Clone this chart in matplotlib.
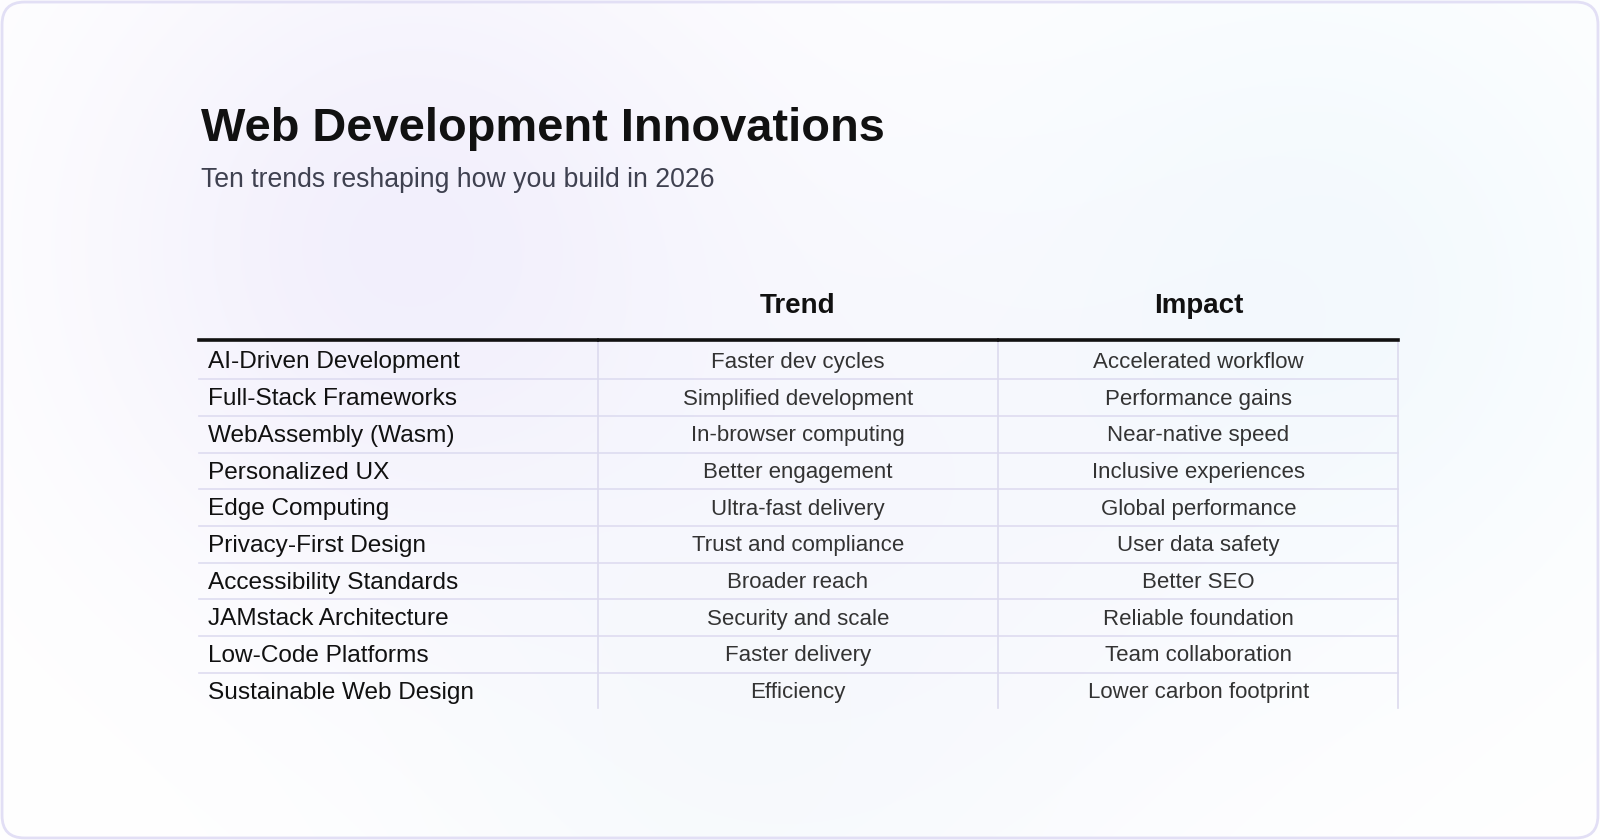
import matplotlib
matplotlib.use("Agg")
import matplotlib.pyplot as plt
import numpy as np
from matplotlib.patches import FancyBboxPatch
from matplotlib.lines import Line2D

title = "Web Development Innovations"
subtitle = "Ten trends reshaping how you build in 2026"
headers = ["", "Trend", "Impact"]
innovations = ["AI-Driven Development", "Full-Stack Frameworks", "WebAssembly (Wasm)",
               "Personalized UX", "Edge Computing", "Privacy-First Design",
               "Accessibility Standards", "JAMstack Architecture", "Low-Code Platforms",
               "Sustainable Web Design"]
trends = ["Faster dev cycles", "Simplified development", "In-browser computing",
          "Better engagement", "Ultra-fast delivery", "Trust and compliance",
          "Broader reach", "Security and scale", "Faster delivery", "Efficiency"]
impacts = ["Accelerated workflow", "Performance gains", "Near-native speed",
           "Inclusive experiences", "Global performance", "User data safety",
           "Better SEO", "Reliable foundation", "Team collaboration",
           "Lower carbon footprint"]

fig = plt.figure(figsize=(16, 8.4), dpi=100)
ax = fig.add_axes([0, 0, 1, 1])
ax.set_xlim(0, 1568)
ax.set_ylim(824, 0)
ax.axis("off")

# background gradient
yy, xx = np.mgrid[0:824:2, 0:1568:2]
img = np.ones((yy.shape[0], yy.shape[1], 3))
def blob(cx, cy, r, col, a):
    d = np.exp(-(((xx - cx) ** 2 + (yy - cy) ** 2) / (2 * r ** 2)))
    for i in range(3):
        img[..., i] = img[..., i] * (1 - a * d) + col[i] * a * d
blob(400, 240, 230, (0.91, 0.89, 0.98), 0.55)
blob(1300, 280, 230, (0.91, 0.96, 0.99), 0.5)
blob(850, 520, 280, (0.93, 0.93, 0.99), 0.35)
blob(700, 760, 220, (0.94, 0.97, 0.98), 0.35)
ax.imshow(img, extent=(0, 1568, 824, 0), zorder=0, aspect="auto")
ax.add_patch(FancyBboxPatch((2, 2), 1564, 820, boxstyle="round,pad=0,rounding_size=22",
                            fc="none", ec="#e2dff5", lw=2, zorder=1))

fam = ["Liberation Sans", "DejaVu Sans"]
ax.text(197, 127, title, fontsize=33.8, fontweight="bold", color="#111111",
        family=fam, va="center", ha="left")
ax.text(197, 177, subtitle, fontsize=19.2, color="#3f4150", family=fam,
        va="center", ha="left")

cols = [(195, 585), (587, 977), (979, 1370)]
for (x0, x1), h in zip(cols, headers):
    if h:
        ax.text((x0 + x1) / 2, 300, h, fontsize=20, fontweight="bold",
                color="#111111", family=fam, ha="center", va="center")
    ax.add_line(Line2D([x0, x1], [334, 334], color="#111111", lw=2.6, zorder=3))

top, rh = 336, 36
n = len(innovations)
for i in range(n):
    cy = top + rh * i + rh / 2 + 1.5
    ax.text(204, cy, innovations[i], fontsize=17.6, color="#111111", family=fam,
            ha="left", va="center")
    ax.text(sum(cols[1]) / 2, cy, trends[i], fontsize=16, color="#333333",
            family=fam, ha="center", va="center")
    ax.text(sum(cols[2]) / 2, cy, impacts[i], fontsize=16, color="#333333",
            family=fam, ha="center", va="center")
    if i < n - 1:
        yl = top + rh * (i + 1)
        ax.add_line(Line2D([195, 1370], [yl, yl], color="#dedcf0", lw=1.2, zorder=2))
for x in (586, 978, 1370):
    ax.add_line(Line2D([x, x], [335, top + rh * n - 1], color="#dcdaee", lw=1.2, zorder=2))

fig.savefig("out.png", dpi=100)
